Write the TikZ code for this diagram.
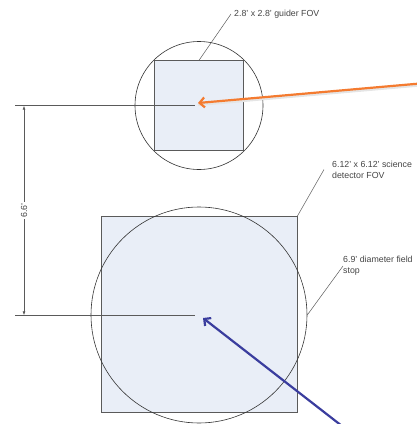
\documentclass[tikz,border=0pt]{standalone}
\usepackage{fontspec}
\setmainfont{Liberation Sans}
\usetikzlibrary{arrows.meta}
\definecolor{fovfill}{HTML}{E9EEF7}
\definecolor{fovline}{HTML}{5A5A5A}
\definecolor{stopline}{HTML}{333333}
\definecolor{txt}{HTML}{444444}
\definecolor{orangearr}{HTML}{F47B30}
\definecolor{bluearr}{HTML}{3A3D9E}
\begin{document}
\begin{tikzpicture}[x=1pt,y=-1pt,
  fovbox/.style={draw=fovline, fill=fovfill, line width=0.8pt, inner sep=0pt, minimum size=#1},
  stopring/.style={circle, draw=stopline, line width=0.6pt, inner sep=0pt, minimum size=#1},
  refline/.style={draw=fovline, line width=0.8pt},
  leader/.style={draw=fovline, line width=0.5pt},
  lbl/.style={font=\fontsize{8.8}{11}\selectfont, text=txt, align=left, anchor=west, inner sep=1pt},
  dimarrow/.style={draw=fovline, line width=0.7pt, {Latex[length=4pt,width=3pt]}-{Latex[length=4pt,width=3pt]}},
  pointer/.style={line width=2.2pt, -{Straight Barb[length=5pt,width=10pt]}}
]
\useasboundingbox (0,0) rectangle (416,424);

% guider field
\node[fovbox=89.5pt] (gfov) at (199,105.5) {};
\node[stopring=128pt] (gstop) at (199,105.5) {};
% science field
\node[fovbox=196pt] (sfov) at (199,314.5) {};
\node[stopring=216pt] (sstop) at (199,315) {};

% reference lines
\coordinate (gref) at (15,105.7);
\coordinate (gend) at (195,105.7);
\coordinate (sref) at (15,315.3);
\coordinate (send) at (195,315.3);
\draw[refline] (gref) -- (gend);
\draw[refline] (sref) -- (send);

% dimension
\coordinate (dtop) at (24,105.7);
\coordinate (dbot) at (24,315.3);
\draw[dimarrow] (dtop) -- (dbot)
  node[pos=0.5, rotate=90, fill=white, inner sep=1pt, font=\fontsize{8.8}{10}\selectfont, text=txt] (dimlbl) {6.6'};

% labels
\node[lbl, inner xsep=3pt] (glbl) at (231,14) {2.8' x 2.8' guider FOV};
\node[lbl, inner xsep=8pt] (slbl) at (324,169.5) {6.12' x 6.12' science\\detector FOV};
\node[lbl, inner xsep=0pt] (flbl) at (343,266) {6.9' diameter field\\stop};
\draw[leader] (gfov.north) -- (glbl.west);
\draw[leader] (sfov.north east) -- (slbl.west);
\draw[leader] (sstop.east) -- (flbl.west);

% pointer arrows
\coordinate (ostart) at (420,83.5);
\coordinate (otip) at (198,103);
\coordinate (bstart) at (342,426);
\coordinate (btip) at (203,318);
\draw[black!10, line width=2.5pt] ([yshift=-1.8pt]ostart) -- ([yshift=-1.8pt]otip);
\draw[pointer, orangearr] (ostart) -- (otip);
\draw[pointer, bluearr] (bstart) -- (btip);
\end{tikzpicture}
\end{document}
